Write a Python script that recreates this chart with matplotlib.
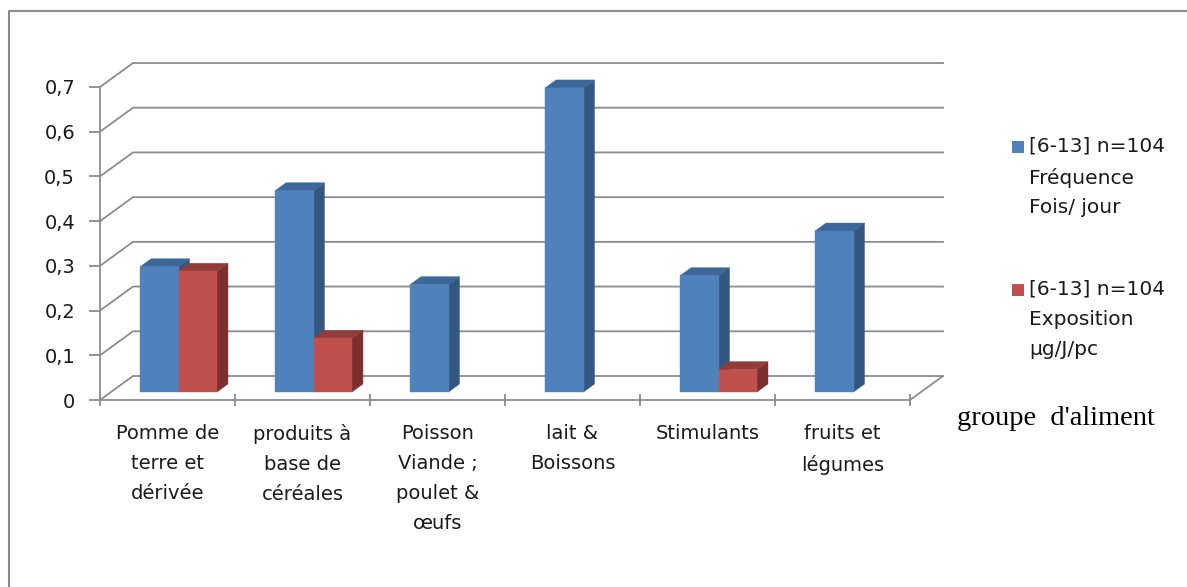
import matplotlib
matplotlib.use("Agg")
import matplotlib.pyplot as plt
from matplotlib.patches import Polygon
from matplotlib.lines import Line2D

# --- data ---------------------------------------------------------------
categories = [
    "Pomme de\nterre et\ndérivée",
    "produits à\nbase de\ncéréales",
    "Poisson\nViande ;\npoulet &\nœufs",
    "lait &\nBoissons",
    "Stimulants",
    "fruits et\nlégumes",
]
frequence = [0.28, 0.45, 0.24, 0.68, 0.26, 0.36]
exposition = [0.27, 0.12, 0.0, 0.0, 0.05, 0.0]
series_labels = [
    "[6-13] n=104\nFréquence\nFois/ jour",
    "[6-13] n=104\nExposition\nµg/J/pc",
]
y_ticks = [0, 0.1, 0.2, 0.3, 0.4, 0.5, 0.6, 0.7]
y_tick_labels = ["0", "0,1", "0,2", "0,3", "0,4", "0,5", "0,6", "0,7"]
x_title = "groupe  d'aliment"

# colours: front face, top face, side face
blue = ("#4F81BD", "#3C679A", "#34577F")
red = ("#C0504D", "#933D3B", "#7C302E")
grid_col = "#8C8C8C"
text_col = "#1a1a1a"

W, H = 1187, 587
fig = plt.figure(figsize=(W / 100, H / 100), dpi=100)

# front plane of the 3-D box
left_px, right_px, base_px, top_px = 100, 910, 400, 87
ax = fig.add_axes([left_px / W, 1 - base_px / H,
                   (right_px - left_px) / W, (base_px - top_px) / H])
ax.set_xlim(0, len(categories))
ax.set_ylim(0, 0.7)

# oblique depth offset (in data units) for the full depth of the box
DX = 33 / ((right_px - left_px) / len(categories))
DY = 24 / ((base_px - top_px) / 0.7)
n = len(categories)

# walls: left-wall diagonals + back-wall horizontals
for v in y_ticks:
    ax.add_line(Line2D([0, DX, n + DX], [v, v + DY, v + DY],
                       color=grid_col, lw=1.3, clip_on=False, zorder=1))
# floor right edge
ax.add_line(Line2D([n, n + DX], [0, DY], color=grid_col, lw=1.3,
                   clip_on=False, zorder=1))

# bars
t0, t1 = 1 / 3, 2 / 3          # depth range occupied by the bars
bar_w = 0.285
group_off = 0.5 - bar_w


def draw_bar(x0, h, cols):
    fx, fy = x0 + DX * t0, DY * t0
    bx, by = DX * (t1 - t0), DY * (t1 - t0)
    front = [(fx, fy), (fx + bar_w, fy), (fx + bar_w, fy + h), (fx, fy + h)]
    top = [(fx, fy + h), (fx + bar_w, fy + h),
           (fx + bar_w + bx, fy + h + by), (fx + bx, fy + h + by)]
    side = [(fx + bar_w, fy), (fx + bar_w + bx, fy + by),
            (fx + bar_w + bx, fy + h + by), (fx + bar_w, fy + h)]
    for pts, c in ((side, cols[2]), (top, cols[1]), (front, cols[0])):
        ax.add_patch(Polygon(pts, closed=True, facecolor=c, edgecolor=c,
                             lw=0.3, clip_on=False, zorder=3))


for i in range(n):
    x_blue = i + group_off
    if frequence[i] > 0:
        draw_bar(x_blue, frequence[i], blue)
    if exposition[i] > 0:
        draw_bar(x_blue + bar_w, exposition[i], red)

# axes styling
for s in ("top", "right"):
    ax.spines[s].set_visible(False)
for s in ("left", "bottom"):
    ax.spines[s].set_color(grid_col)
    ax.spines[s].set_linewidth(1.3)
ax.set_facecolor("none")
ax.set_yticks(y_ticks)
ax.set_yticklabels(y_tick_labels)
ax.set_xticks(range(n + 1))
ax.set_xticklabels([])
ax.set_xticks([i + 0.5 for i in range(n)], minor=True)
ax.set_xticklabels(categories, minor=True, ha="center", va="top",
                   linespacing=1.75)
ax.tick_params(axis="y", colors=grid_col, length=8, width=1.3,
               labelcolor=text_col, labelsize=14, pad=10)
ax.tick_params(axis="x", which="major", colors=grid_col, length=8,
               width=1.3, direction="inout")
ax.tick_params(axis="x", which="minor", length=0, pad=17,
               labelcolor=text_col, labelsize=14)

# legend
leg_x, leg_ys = 1012, (147, 290)
for lbl, cols, ly in zip(series_labels, (blue, red), leg_ys):
    fig.patches.append(plt.Rectangle((leg_x / W, 1 - (ly + 6) / H),
                                     12 / W, 12 / H, transform=fig.transFigure,
                                     facecolor=cols[0], edgecolor="none"))
    fig.text((leg_x + 17) / W, 1 - (ly - 10) / H, lbl, ha="left", va="top",
             fontsize=14.5, color=text_col, linespacing=1.72)

# axis title
fig.text(957 / W, 1 - 425 / H, x_title, ha="left", va="baseline",
         fontsize=20.5, family="Liberation Serif", color="black")

# chart border
fig.add_artist(Line2D([9 / W, 9 / W, 1], [0, 1 - 11 / H, 1 - 11 / H],
                      transform=fig.transFigure, color="#8C8C8C", lw=1.5))

fig.savefig("out.png", dpi=100)
